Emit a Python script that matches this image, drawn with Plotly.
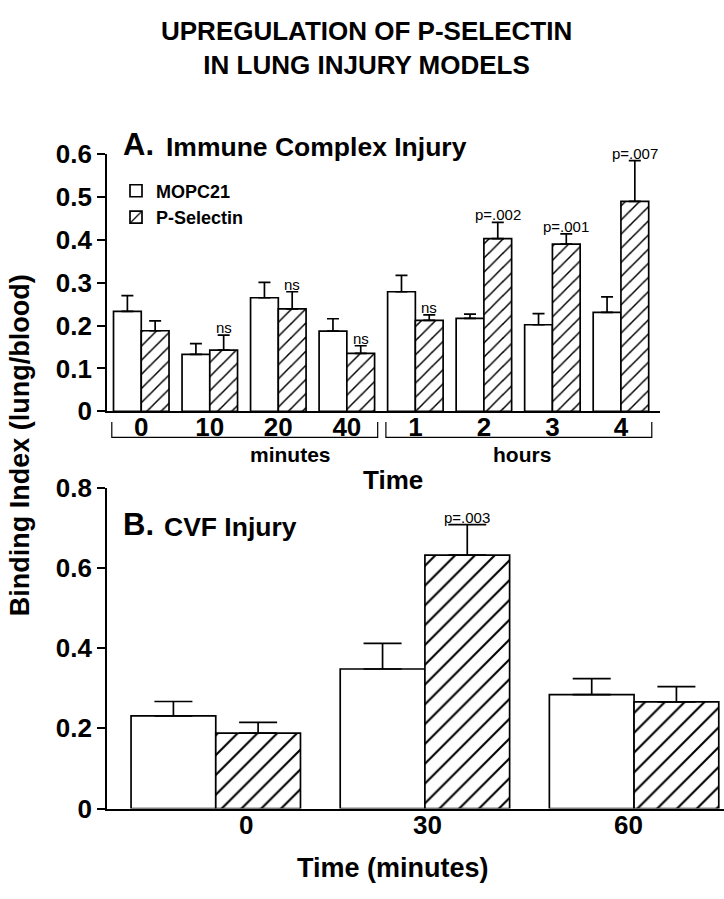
import plotly.graph_objects as go

# ---------------- Data ----------------
# Panel A: Immune complex injury
a_times = ["0", "10", "20", "40", "1", "2", "3", "4"]
a_mopc = [0.233, 0.133, 0.265, 0.187, 0.279, 0.217, 0.202, 0.231]
a_mopc_err = [0.037, 0.025, 0.036, 0.029, 0.038, 0.010, 0.026, 0.036]
a_psel = [0.188, 0.143, 0.239, 0.135, 0.212, 0.403, 0.390, 0.490]
a_psel_err = [0.023, 0.035, 0.040, 0.018, 0.013, 0.038, 0.024, 0.095]
a_sig = ["", "ns", "ns", "ns", "ns", "p=.002", "p=.001", "p=.007"]
a_groups = [("minutes", 0, 3), ("hours", 4, 7)]

# Panel B: CVF injury
b_times = ["0", "30", "60"]
b_mopc = [0.231, 0.348, 0.284]
b_mopc_err = [0.036, 0.064, 0.040]
b_psel = [0.188, 0.632, 0.266]
b_psel_err = [0.027, 0.076, 0.038]
b_sig = ["", "p=.003", ""]

series_names = ["MOPC21", "P-Selectin"]

# ---------------- Style ----------------
W, H = 724, 899
FONT = "Liberation Sans, Arial, Helvetica, sans-serif"
BARGAP = 0.19
LW = 1.7


def py(p):  # pixel row -> paper y
    return 1 - p / H


def px(p):  # pixel col -> paper x
    return p / W


fig = go.Figure()


def add_panel(xs, m, me, p, pe, xa, ya, cap, hatch, show):
    fig.add_trace(go.Bar(
        x=xs, y=m, name=series_names[0], xaxis=xa, yaxis=ya, showlegend=show,
        marker=dict(color="white", line=dict(color="black", width=LW)),
        error_y=dict(type="data", symmetric=False, array=me, arrayminus=[0] * len(me),
                     color="black", thickness=LW, width=cap),
    ))
    fig.add_trace(go.Bar(
        x=xs, y=p, name=series_names[1], xaxis=xa, yaxis=ya, showlegend=show,
        marker=dict(color="white", line=dict(color="black", width=LW),
                    pattern=dict(shape="/", fgcolor="black", bgcolor="white",
                                 fillmode="replace", size=hatch, solidity=0.15)),
        error_y=dict(type="data", symmetric=False, array=pe, arrayminus=[0] * len(pe),
                     color="black", thickness=LW, width=cap),
    ))


add_panel(a_times, a_mopc, a_mopc_err, a_psel, a_psel_err, "x", "y", 6, 10, True)
add_panel(b_times, b_mopc, b_mopc_err, b_psel, b_psel_err, "x2", "y2", 19, 14, False)

bold = dict(family=FONT, color="black", weight="bold")

axis_common = dict(showgrid=False, zeroline=False, showline=True, linecolor="black",
                   linewidth=LW)

fig.update_layout(
    width=W, height=H, autosize=False,
    margin=dict(l=0, r=0, t=0, b=0),
    paper_bgcolor="white", plot_bgcolor="white",
    barmode="group", bargap=BARGAP, bargroupgap=0,
    font=dict(family=FONT, color="black"),
    xaxis=dict(axis_common, domain=[px(107), px(660)], range=[-0.5, 7.57],
               type="category", anchor="y", ticks="", ticklen=0, ticklabelstandoff=-8,
               tickfont=dict(bold, size=26)),
    yaxis=dict(axis_common, domain=[py(410), py(144)], range=[0, 0.6], dtick=0.1,
               anchor="x", ticks="outside", ticklen=8, tickwidth=LW, tickcolor="black",
               tickfont=dict(bold, size=26)),
    xaxis2=dict(axis_common, domain=[px(107), 1], range=[-0.52, 2.43],
                type="category", anchor="y2", ticks="", showticklabels=False),
    yaxis2=dict(axis_common, domain=[py(821), py(489)], range=[0, 0.8], dtick=0.2,
                anchor="x2", ticks="outside", ticklen=8, tickwidth=LW, tickcolor="black",
                tickfont=dict(bold, size=26)),
    legend=dict(x=px(116), y=py(163), xanchor="left", yanchor="top",
                bgcolor="rgba(0,0,0,0)", font=dict(bold, size=18),
                tracegroupgap=0, itemwidth=30, traceorder="normal"),
)

ann = []
# Title
ann.append(dict(text="UPREGULATION OF P-SELECTIN<br>IN LUNG INJURY MODELS",
                x=px(366), y=py(34), xref="paper", yref="paper", showarrow=False,
                xanchor="center", yanchor="middle", font=dict(bold, size=26)))
# Panel titles
ann.append(dict(text="A.", x=px(121), y=py(134), xref="paper", yref="paper",
                showarrow=False, xanchor="left", yanchor="middle", font=dict(bold, size=31)))
ann.append(dict(text="Immune Complex Injury", x=px(164), y=py(137), xref="paper",
                yref="paper", showarrow=False, xanchor="left", yanchor="middle",
                font=dict(bold, size=26.5)))
ann.append(dict(text="B.", x=px(121), y=py(527), xref="paper", yref="paper",
                showarrow=False, xanchor="left", yanchor="middle", font=dict(bold, size=31)))
ann.append(dict(text="CVF Injury", x=px(162), y=py(530), xref="paper", yref="paper",
                showarrow=False, xanchor="left", yanchor="middle", font=dict(bold, size=26.5)))
# Shared y title
ann.append(dict(text="Binding Index (lung/blood)", x=px(20), y=py(445), xref="paper",
                yref="paper", showarrow=False, textangle=-90, xanchor="center",
                yanchor="middle", font=dict(bold, size=27)))
# Axis titles
ann.append(dict(text="Time", x=px(393), y=py(481), xref="paper", yref="paper",
                showarrow=False, xanchor="center", yanchor="middle", font=dict(bold, size=26)))
ann.append(dict(text="Time (minutes)", x=px(393), y=py(882), xref="paper", yref="paper",
                showarrow=False, xanchor="center", yanchor="middle", font=dict(bold, size=27)))

# Group brackets + labels for panel A
shapes = []
group_label_px = {"minutes": 290, "hours": 522}
for label, i0, i1 in a_groups:
    x0, x1 = i0 - 0.43, i1 + 0.45
    shapes.append(dict(type="path", xref="x", yref="paper",
                       path=f"M {x0},{py(421)} L {x0},{py(437)} L {x1},{py(437)} L {x1},{py(421)}",
                       line=dict(color="black", width=1.2)))
    ann.append(dict(text=label, x=px(group_label_px[label]), y=py(455), xref="paper",
                    yref="paper", showarrow=False, xanchor="center", yanchor="middle",
                    font=dict(bold, size=21)))

# Panel B category labels (slightly offset as in the original)
b_label_shift = [30, 3, -6]
for i, t in enumerate(b_times):
    ann.append(dict(text=t, x=i, y=py(838), xref="x2", yref="paper", showarrow=False,
                    xanchor="center", yanchor="middle", xshift=b_label_shift[i],
                    font=dict(bold, size=26)))

# Significance labels above P-Selectin bars
off = (1 - BARGAP) / 4
for i, s in enumerate(a_sig):
    if s:
        ann.append(dict(text=s, x=i + off, y=a_psel[i] + a_psel_err[i], xref="x", yref="y",
                        showarrow=False, xanchor="center", yanchor="bottom", yshift=-3,
                        font=dict(family=FONT, size=15, color="black")))
for i, s in enumerate(b_sig):
    if s:
        ann.append(dict(text=s, x=i + off, y=b_psel[i] + b_psel_err[i], xref="x2", yref="y2",
                        showarrow=False, xanchor="center", yanchor="bottom", yshift=-3,
                        font=dict(family=FONT, size=15, color="black")))

fig.update_layout(annotations=ann, shapes=shapes)
fig.write_html("out.html", config=dict(displayModeBar=False),
               post_script="document.body.style.margin='0';document.body.style.overflow='hidden';")
